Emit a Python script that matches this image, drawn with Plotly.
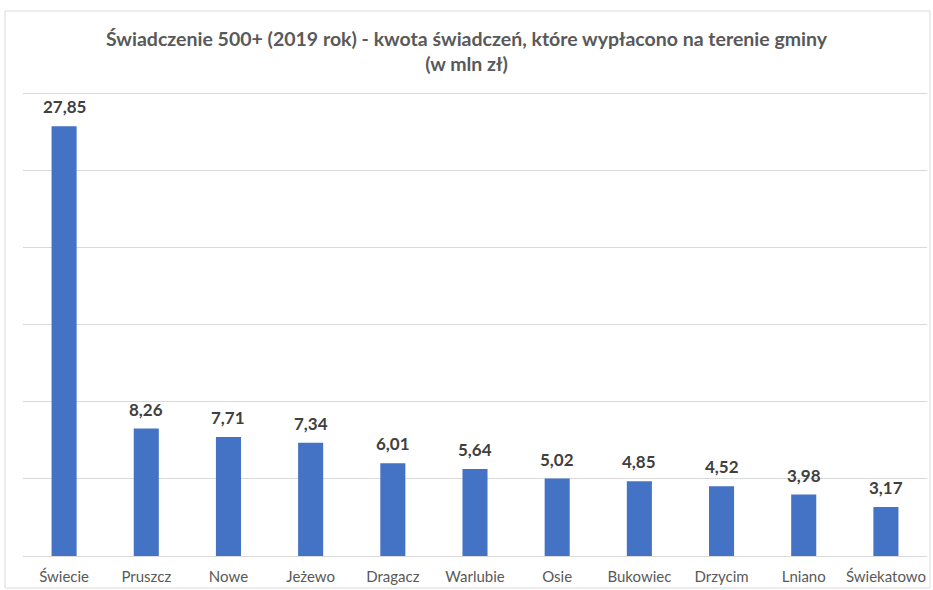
import plotly.graph_objects as go

categories = ["Świecie", "Pruszcz", "Nowe", "Jeżewo", "Dragacz", "Warlubie",
              "Osie", "Bukowiec", "Drzycim", "Lniano", "Świekatowo"]
values = [27.85, 8.26, 7.71, 7.34, 6.01, 5.64, 5.02, 4.85, 4.52, 3.98, 3.17]
labels = [f"{v:.2f}".replace(".", ",") for v in values]

W, H = 933, 590
L, R, T, B = 23, 6, 90, 34
pw, ph = W - L - R, H - T - B

def px(x):
    return (x - L) / pw

def py(y):
    return (H - B - y) / ph

fig = go.Figure(go.Bar(
    x=categories, y=values,
    marker=dict(color="#4472C4", line=dict(width=0)),
    hoverinfo="x+y",
))

annotations = [
    dict(x=c, y=v, xref="x", yref="y", text=f"<b>{t}</b>", showarrow=False,
         yanchor="bottom", yshift=7,
         font=dict(family="Lato", size=17, color="#404040"))
    for c, v, t in zip(categories, values, labels)
]

fig.update_layout(
    width=W, height=H,
    margin=dict(l=L, r=R, t=T, b=B),
    paper_bgcolor="white", plot_bgcolor="white",
    bargap=0.695,
    showlegend=False,
    title=dict(
        text="<b>Świadczenie 500+ (2019 rok) - kwota świadczeń, które wypłacono na terenie gminy<br>(w mln zł)</b>",
        x=0.5, xanchor="center", y=1 - 46 / H, yanchor="middle",
        font=dict(family="Lato", size=19.5, color="#595959"),
    ),
    xaxis=dict(
        showgrid=False, showline=False, zeroline=False, ticks="",
        tickfont=dict(family="Lato", size=15, color="#595959"),
        ticklabelstandoff=10,
    ),
    yaxis=dict(
        range=[0, 30.2], tickvals=[0, 5, 10, 15, 20, 25, 30], showticklabels=False,
        showgrid=True, gridcolor="#d9d9d9", gridwidth=1, zeroline=True,
        zerolinecolor="#d9d9d9", zerolinewidth=1, showline=False,
    ),
    annotations=annotations,
    shapes=[dict(type="rect", xref="paper", yref="paper",
                 x0=px(5), x1=px(930), y0=py(588), y1=py(11),
                 line=dict(color="#d9d9d9", width=1), fillcolor="rgba(0,0,0,0)",
                 layer="below")],
)

fig.write_html("out.html", config={"displayModeBar": False},
               post_script="document.body.style.margin='0';document.body.style.overflow='hidden';")
